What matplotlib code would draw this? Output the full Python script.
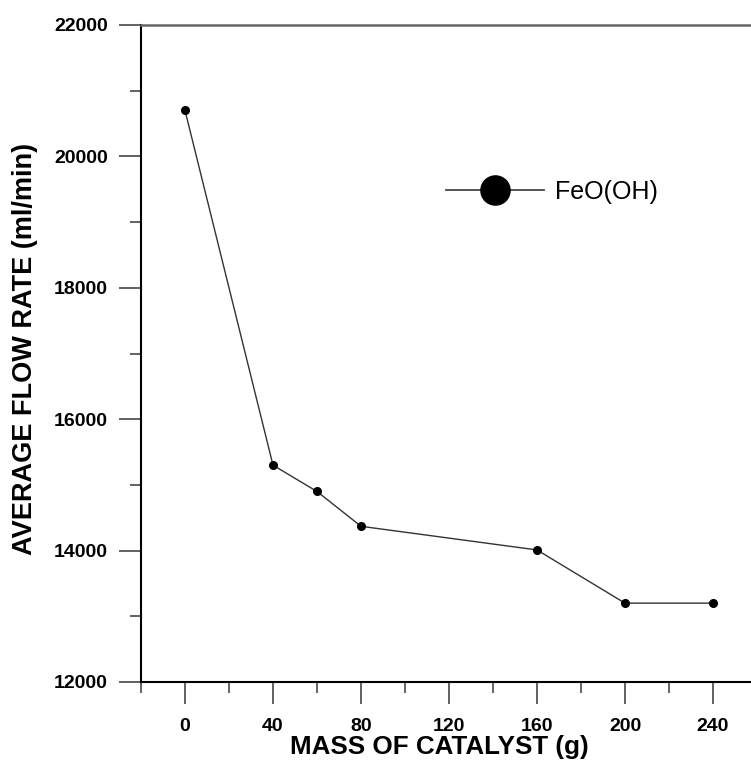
import numpy as np
import matplotlib
matplotlib.use("Agg")
import matplotlib.pyplot as plt
from matplotlib.lines import Line2D
from matplotlib.ticker import MultipleLocator

plt.rcParams['font.family'] = ['Liberation Sans', 'DejaVu Sans']

# catalyst mass (g) vs average flow rate (ml/min)
mass = [0, 40, 60, 80, 160, 200, 240]
flow_rate = [20700, 15300, 14900, 14370, 14010, 13200, 13200]
series_name = "FeO(OH)"

fig = plt.figure(figsize=(7.51, 7.71), dpi=100)
W, H = 751, 771
ax = fig.add_axes([141 / W, (H - 682) / H, (757 - 141) / W, (682 - 25) / H])

ax.plot(mass, flow_rate, color='#333333', lw=1.0, marker='o',
        markersize=5.5, markerfacecolor='black', markeredgecolor='black')

ax.set_xlim(-20, 260)
ax.set_ylim(12000, 22000)
ax.xaxis.set_major_locator(MultipleLocator(40))
ax.xaxis.set_minor_locator(MultipleLocator(20))
ax.yaxis.set_major_locator(MultipleLocator(2000))
ax.yaxis.set_minor_locator(MultipleLocator(1000))

ax.spines['right'].set_visible(False)
ax.spines['left'].set_linewidth(1.5)
ax.spines['bottom'].set_linewidth(1.5)
ax.spines['top'].set_linewidth(1.8)
ax.spines['top'].set_color('#666666')

ax.tick_params(which='major', direction='out', length=16, width=1.3, color='#555555',
               labelsize=14, top=False, right=False)
ax.tick_params(which='minor', direction='out', length=8, width=1.3, color='#555555',
               top=False, right=False)
for lab in ax.get_xticklabels() + ax.get_yticklabels():
    lab.set_fontweight('bold')
ax.tick_params(axis='x', which='major', pad=10)
ax.tick_params(axis='y', which='major', pad=8)

ax.set_xlabel("MASS OF CATALYST (g)", fontsize=18.7, fontweight='bold')
ax.set_ylabel("AVERAGE FLOW RATE (ml/min)", fontsize=19.5, fontweight='bold')
ax.xaxis.set_label_coords(0.484, -0.081)
ax.yaxis.set_label_coords(-0.167, 0.507)

handle = Line2D([], [], color='#444444', lw=1.3, marker='o', markersize=21,
                markerfacecolor='black', markeredgecolor='black')
ax.legend([handle], [series_name], loc='center left', frameon=False,
          bbox_to_anchor=(446 / W, 1 - 192 / H), bbox_transform=fig.transFigure,
          fontsize=18, handlelength=3.9, handletextpad=0.45, borderpad=0,
          borderaxespad=0)

fig.savefig("out.png", dpi=100)
